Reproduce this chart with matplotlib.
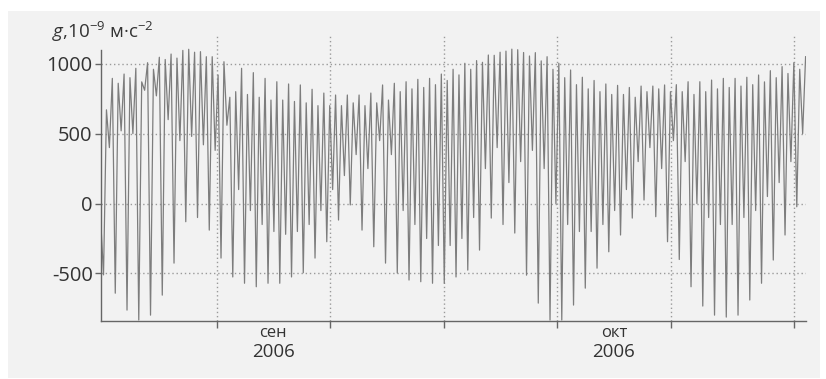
import numpy as np
import matplotlib.pyplot as plt
from matplotlib.patches import Rectangle

plt.rcParams['font.family'] = ['Open Sans', 'DejaVu Sans']
plt.rcParams['mathtext.fontset'] = 'custom'
plt.rcParams['mathtext.rm'] = 'Open Sans'
plt.rcParams['mathtext.it'] = 'Open Sans:italic'

# приливные вариации g, 10^-9 м/с^2
# по лунным суткам: главный минимум, второй максимум, второй минимум, главный максимум
g_start = -100
low_main = [-510, -641, -762, -833, -798, -655, -426, -130, -100, -190,
            -390, -525, -570, -595, -570, -570, -525, -495, -390, -273,
            -118, -10, -190, -309, -426, -497, -547, -559, -570, -570,
            -525, -476, -333, -104, -150, -211, -512, -712, -833, -833,
            -726, -605, -462, -345, -225, -104, 25, -94, -273, -400,
            -595, -733, -798, -812, -798, -690, -570, -404, -225, -23]
high_second = [670, 860, 900, 870, 960, 1030, 1040, 1103, 1086, 1050,
               1014, 800, 780, 760, 740, 740, 730, 720, 700, 700,
               700, 720, 700, 720, 740, 800, 820, 830, 850, 880,
               920, 960, 1010, 1060, 1090, 1100, 1055, 1020, 960, 900,
               850, 820, 800, 780, 780, 760, 800, 820, 800, 800,
               780, 800, 820, 830, 840, 850, 870, 900, 930, 960]
low_second = [400, 520, 500, 810, 770, 600, 450, 480, 420, 380,
              560, 100, -50, -150, -200, -220, -200, -150, -50, 100,
              200, 350, 250, 450, 350, -50, -150, -250, -300, -300,
              -250, -100, 250, 400, 150, 300, 380, 250, 0, -150,
              -200, -200, -150, -50, 100, 300, 400, 250, 450, 300,
              0, -100, -150, -150, -100, -50, 50, 150, 300, 500]
high_main = [895, 926, 967, 1007, 1046, 1069, 1095, 1082, 1050, 919,
             760, 967, 936, 895, 871, 855, 848, 817, 790, 776,
             776, 776, 790, 848, 860, 871, 888, 895, 926, 960,
             1003, 1022, 1062, 1082, 1104, 1080, 1079, 1050, 1003, 955,
             903, 880, 855, 845, 830, 840, 840, 848, 850, 871,
             871, 883, 895, 895, 903, 919, 950, 979, 1007, 1050]

# дни от 1 сентября 2006
first_low_day = -9.97
lunar_day = 1.0352
tick_days = [0, 10, 20, 30, 40, 50.9]
month_labels = ['сен', 'окт']
month_days = [5, 35]
year_label = '2006'

g = np.column_stack([low_main, high_second, low_second, high_main]).ravel()
g = np.concatenate([[g_start], g])
step = lunar_day / 4
t = first_low_day - step + step * np.arange(len(g))

fig = plt.figure(figsize=(8.26, 3.79), dpi=100, facecolor='white')
fig.patches.append(Rectangle((0.0097, 0.0026), 0.983, 0.968, transform=fig.transFigure,
                             facecolor='#f2f2f2', edgecolor='none', zorder=-10))
ax = fig.add_axes([0.1223, 0.153, 0.8535, 0.752])
ax.set_facecolor('none')

ax.plot(t, g, color='#7d7d7d', lw=0.9, zorder=2)

ax.set_xlim(-10.19, 51.92)
ax.set_ylim(-840, 1198)

for s in ['top', 'right']:
    ax.spines[s].set_visible(False)
for s in ['left', 'bottom']:
    ax.spines[s].set_color('#666666')
    ax.spines[s].set_linewidth(1.0)
ax.spines['left'].set_bounds(-840, 1100)

ax.set_yticks([-500, 0, 500, 1000])
ax.set_yticklabels(['-500', '0', '500', '1000'])
ax.set_xticks(tick_days)
ax.set_xticklabels([])
ax.tick_params(axis='y', length=4, width=1, color='#666666', labelsize=14.5,
               labelcolor='#333333', pad=2)
ax.tick_params(axis='x', length=5, width=1, color='#666666')

ax.grid(True, color='#9a9a9a', linestyle=(0, (1, 2)), linewidth=1.0, zorder=1)

for m, d in zip(month_labels, month_days):
    ax.text(d, -925, m, ha='center', va='center', fontsize=12, color='#333333')
    ax.text(d, -1060, year_label, ha='center', va='center', fontsize=13.5, color='#333333')

fig.text(0.063, 0.915, r'$g$,10$^{-9}$ м·с$^{-2}$', fontsize=13.5, color='#333333',
         ha='left', va='center')

fig.savefig('out.png', dpi=100, facecolor=fig.get_facecolor())
